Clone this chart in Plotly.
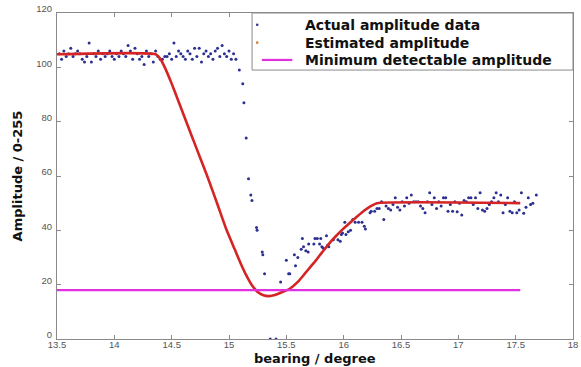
import plotly.graph_objects as go

# ---- Actual amplitude data (blue dots) ----
x_left = [13.52, 13.54, 13.56, 13.58, 13.60, 13.62, 13.64, 13.66, 13.68, 13.70,
          13.72, 13.74, 13.76, 13.78, 13.80, 13.82, 13.84, 13.86, 13.88, 13.90,
          13.92, 13.94, 13.96, 13.98, 14.00, 14.02, 14.04, 14.06, 14.08, 14.10,
          14.12, 14.14, 14.16, 14.18, 14.20, 14.22, 14.24, 14.26, 14.28, 14.30,
          14.32, 14.34, 14.36, 14.38, 14.40, 14.42, 14.44, 14.46, 14.48, 14.50,
          14.52, 14.54, 14.56, 14.58, 14.60, 14.62, 14.64, 14.66, 14.68, 14.70,
          14.72, 14.74, 14.76, 14.78, 14.80, 14.82, 14.84, 14.86, 14.88, 14.90,
          14.92, 14.94, 14.96, 14.98, 15.00, 15.02, 15.04, 15.06]
y_left = [105, 103, 106, 104, 105, 107, 104, 105, 106, 105,
          103, 102, 104, 109, 102, 105, 104, 106, 103, 105,
          104, 105, 106, 104, 103, 105, 104, 106, 105, 104,
          108, 106, 103, 107, 105, 103, 104, 101, 106, 104,
          105, 102, 106, 104, 103, 103, 104, 104, 105, 103,
          109, 104, 106, 105, 104, 103, 106, 105, 103, 107,
          104, 107, 102, 105, 106, 104, 105, 103, 106, 107,
          104, 108, 105, 104, 106, 103, 105, 103]

x_drop = [15.09, 15.12, 15.13, 15.15, 15.17, 15.19, 15.20, 15.24, 15.245, 15.29,
          15.295, 15.31, 15.36, 15.41, 15.45, 15.50, 15.52, 15.53]
y_drop = [99, 94, 87, 74, 59, 53, 51, 41, 40, 32,
          31, 24, 0, 0, 21, 29, 24, 24]

x_rise = [15.57, 15.58, 15.60, 15.63, 15.64, 15.65, 15.67, 15.69, 15.695, 15.74,
          15.75, 15.77, 15.79, 15.80, 15.81, 15.82, 15.85, 15.86, 15.87, 15.91,
          15.95, 15.97, 15.98, 15.99, 16.01, 16.02, 16.04, 16.06, 16.08, 16.10,
          16.13, 16.16, 16.18, 16.19, 16.23, 16.24, 16.27, 16.29]
y_rise = [31, 27, 30, 33, 37, 34, 32.5, 32, 35, 35,
          37, 37, 35, 37, 34, 33.5, 38, 34.5, 34, 36.5,
          36.5, 36, 38.5, 39, 43, 38.5, 39.5, 40, 44, 43,
          43, 43, 41.5, 40.5, 46.5, 47, 47, 48]

x_right = [16.31, 16.33, 16.35, 16.37, 16.39, 16.41, 16.43, 16.45, 16.47, 16.49,
           16.51, 16.53, 16.55, 16.57, 16.59, 16.61, 16.63, 16.65, 16.67, 16.69,
           16.71, 16.73, 16.75, 16.77, 16.79, 16.81, 16.83, 16.85, 16.87, 16.89,
           16.91, 16.93, 16.95, 16.97, 16.99, 17.01, 17.03, 17.05, 17.07, 17.09,
           17.11, 17.13, 17.15, 17.17, 17.19, 17.21, 17.23, 17.25, 17.27, 17.29,
           17.31, 17.33, 17.35, 17.37, 17.39, 17.41, 17.43, 17.45, 17.47, 17.49,
           17.51, 17.53, 17.55, 17.57, 17.59, 17.61, 17.63, 17.65, 17.68]
y_right = [48, 50.5, 44, 49, 48, 47.5, 49.5, 52, 48.5, 47.5,
           50.5, 49, 52, 50, 53, 50.5, 50.5, 50.5, 49, 48,
           46.5, 50.5, 53.8, 49.5, 52, 48, 50.5, 49, 52, 52,
           47, 49.5, 47, 50.5, 46.8, 50, 45.6, 51, 50.5, 52,
           52, 49.5, 52, 48, 53.8, 47.5, 47, 48, 49.5, 50.5,
           52, 53.8, 50.5, 53, 46.5, 49.5, 52, 47, 46.5, 50.5,
           46.5, 47.5, 53.8, 46.3, 48.5, 52, 49.5, 50, 53]

actual_x = x_left + x_drop + x_rise + x_right
actual_y = y_left + y_drop + y_rise + y_right

# ---- Estimated amplitude (red curve) ----
est_x = [13.50, 14.36, 14.40, 14.44, 14.50, 14.55, 14.60, 14.65, 14.70, 14.75,
         14.81, 14.90, 14.98, 15.05, 15.10, 15.15, 15.20, 15.25, 15.30, 15.35,
         15.40, 15.45, 15.53, 15.60, 15.67, 15.74, 15.81, 15.88, 15.94, 16.00,
         16.06, 16.12, 16.18, 16.24, 16.29, 17.54]
est_y = [104.8, 104.8, 103.2, 100, 94, 88.5, 83, 77.5, 72, 66.5,
         60, 49.5, 40, 33, 28, 23.5, 19.8, 17.3, 16.1, 15.8,
         16.2, 17, 18.5, 21, 24.5, 28, 31.8, 35.5, 38.2, 40.7,
         43, 45.2, 47.3, 49, 50, 50]

# ---- Minimum detectable amplitude (magenta line) ----
min_x = [13.5, 17.54]
min_y = [18, 18]

x_ticks = [13.5, 14, 14.5, 15, 15.5, 16, 16.5, 17, 17.5, 18]
y_ticks = [0, 20, 40, 60, 80, 100, 120]

legend_names = ["Actual amplitude data", "Estimated amplitude", "Minimum detectable amplitude"]
x_title = "bearing / degree"
y_title = "Amplitude / 0-255"

C_ACTUAL = "#2b2f8f"
C_EST = "#d42424"
C_EST_KEY = "#c8823a"
C_MIN = "#e030e0"
AXIS_C = "#8a8a8a"
LEG_FONT = "DejaVu Sans, Liberation Sans, Arial"

fig = go.Figure()
fig.add_trace(go.Scatter(
    x=actual_x, y=actual_y, mode="markers", name=legend_names[0],
    marker=dict(color=C_ACTUAL, size=3), showlegend=False))
fig.add_trace(go.Scatter(
    x=est_x, y=est_y, mode="lines", name=legend_names[1],
    line=dict(color=C_EST, width=2.6, shape="spline", smoothing=0.5),
    showlegend=False))
fig.add_trace(go.Scatter(
    x=min_x, y=min_y, mode="lines", name=legend_names[2],
    line=dict(color=C_MIN, width=2.2), showlegend=False))

axis_common = dict(
    showline=True, linecolor=AXIS_C, linewidth=1, mirror="allticks",
    ticks="inside", ticklen=4, tickcolor=AXIS_C, showgrid=False,
    zeroline=False, automargin=False,
    tickfont=dict(family="Liberation Sans, Arial", size=9.5, color="#555555"),
)

fig.update_xaxes(
    range=[13.5, 18], tickvals=x_ticks, ticktext=[str(v) for v in x_ticks],
    ticklabelstandoff=-3,
    **axis_common)
fig.update_yaxes(
    range=[0, 120], tickvals=y_ticks,
    ticklabelstandoff=2, ticklabelshift=-4,
    title=dict(text="<b>%s</b>" % y_title, standoff=10,
               font=dict(family=LEG_FONT, size=13, color="#111111")),
    **axis_common)

# ---- hand-built legend box (paper coordinates) ----
shapes = [
    dict(type="rect", xref="paper", yref="paper", x0=0.378, x1=1.0, y0=0.825, y1=1.0,
         line=dict(color=AXIS_C, width=1), fillcolor="white", layer="above"),
    dict(type="circle", xref="paper", yref="paper", x0=0.3855, x1=0.3905, y0=0.960, y1=0.968,
         line=dict(width=0), fillcolor=C_ACTUAL, layer="above"),
    dict(type="circle", xref="paper", yref="paper", x0=0.3855, x1=0.3905, y0=0.905, y1=0.913,
         line=dict(width=0), fillcolor=C_EST_KEY, layer="above"),
    dict(type="line", xref="paper", yref="paper", x0=0.397, x1=0.456, y0=0.856, y1=0.856,
         line=dict(color=C_MIN, width=2.2), layer="above"),
]
annotations = [
    dict(text="<b>%s</b>" % name, xref="paper", yref="paper", x=0.476, y=yy,
         xanchor="left", yanchor="middle", showarrow=False,
         font=dict(family=LEG_FONT, size=14, color="#111111"))
    for name, yy in zip(legend_names, [0.963, 0.908, 0.856])
]
annotations.append(dict(
    text="<b>%s</b>" % x_title, xref="paper", yref="paper", x=0.5, y=-0.0855,
    xanchor="center", yanchor="bottom", showarrow=False, borderpad=0,
    font=dict(family=LEG_FONT, size=13, color="#111111")))

fig.update_layout(
    width=581, height=367,
    margin=dict(l=57, r=8, t=13, b=28),
    paper_bgcolor="white", plot_bgcolor="white",
    showlegend=False,
    shapes=shapes, annotations=annotations,
)

fig.write_html("out.html")
